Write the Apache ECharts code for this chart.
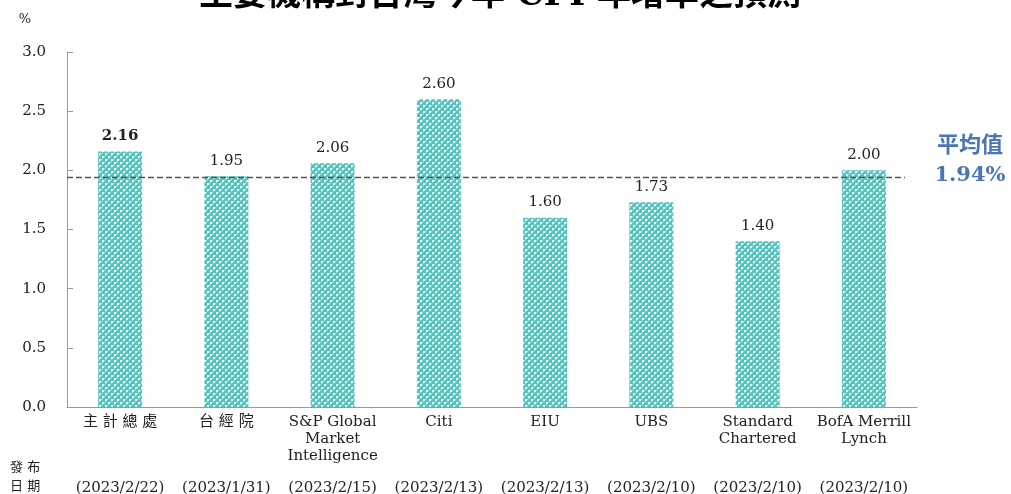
<!DOCTYPE html>
<html><head><meta charset="utf-8">
<script src="https://cdn.jsdelivr.net/npm/echarts@6/dist/echarts.min.js"></script>
<style>html,body{margin:0;padding:0;background:#fff}#c{width:1011px;height:494px}</style>
</head><body><div id="c"></div>
<script>
const categories = ['主 計 總 處','台 經 院','S&P Global\nMarket\nIntelligence','Citi','EIU','UBS','Standard\nChartered','BofA Merrill\nLynch'];
const dates = ['(2023/2/22)','(2023/1/31)','(2023/2/15)','(2023/2/13)','(2023/2/13)','(2023/2/10)','(2023/2/10)','(2023/2/10)'];
const values = [2.16, 1.95, 2.06, 2.60, 1.60, 1.73, 1.40, 2.00];
const average = 1.94;
const titleText = '主要機構對台灣今年 CPI 年增率之預測';

const serif = '"DejaVu Serif","Noto Sans CJK TC",serif';

// lattice pattern
const pc = document.createElement('canvas');
pc.width = 6; pc.height = 6;
const g = pc.getContext('2d');
g.imageSmoothingEnabled = false;
g.fillStyle = '#4fc6bf'; g.fillRect(0,0,6,6);
g.fillStyle = '#e8f8f7';
g.fillRect(0,0,2,2); g.fillRect(3,3,2,2);
g.fillStyle = '#a8e4e0';
g.fillRect(2,0,1,1); g.fillRect(5,3,1,1); g.fillRect(0,2,1,1); g.fillRect(3,5,1,1);

const chart = echarts.init(document.getElementById('c'));
chart.setOption({
  animation: false,
  grid: {left: 67, right: 94, top: 52, bottom: 87, outerBoundsMode: 'none', containLabel: false},
  xAxis: [{
    type: 'category', data: categories,
    axisLine: {lineStyle: {color: '#999'}},
    axisTick: {lineStyle: {color: '#999'}, length: 4},
    axisLabel: {color: '#222', fontFamily: serif, fontSize: 15, lineHeight: 17, margin: 7, interval: 0}
  }, {
    type: 'category', data: dates, position: 'bottom', offset: 66,
    axisLine: {show: false}, axisTick: {show: false},
    axisLabel: {color: '#222', fontFamily: serif, fontSize: 15, interval: 0}
  }],
  yAxis: {
    type: 'value', min: 0, max: 3, interval: 0.5,
    name: '%', nameLocation: 'end', nameGap: 26,
    nameTextStyle: {color: '#222', fontFamily: serif, fontSize: 13, align: 'right', padding: [0, 36, 0, 0]},
    axisLine: {show: true, lineStyle: {color: '#999'}},
    axisTick: {show: true, inside: true, length: 6, lineStyle: {color: '#999'}},
    splitLine: {show: false},
    axisLabel: {color: '#222', fontFamily: serif, fontSize: 15, margin: 21,
      formatter: v => v.toFixed(1)}
  },
  series: [{
    type: 'bar', data: values.map((v, i) => ({value: v,
      label: i === 0 ? {fontWeight: 'bold'} : {}})),
    barWidth: 44,
    itemStyle: {color: {image: pc, repeat: 'repeat'}},
    label: {show: true, position: 'top', distance: 8, color: '#222', fontFamily: serif, fontSize: 15,
      formatter: p => p.value.toFixed(2)},
    markLine: {
      silent: true, symbol: 'none',
      lineStyle: {type: [6, 3], color: '#555', width: 1.3},
      label: {show: false},
      data: [[{xAxis: 0, yAxis: average, x: 67}, {yAxis: average, x: 905}]]
    }
  }],
  graphic: [
    {type: 'text', x: 500, y: -4, style: {text: titleText, font: 'bold 34px ' + serif, fill: '#000', textAlign: 'center', textVerticalAlign: 'middle'}},
    {type: 'text', x: 970, y: 146, style: {text: '平均值', font: 'bold 22px ' + serif, fill: '#4a76b4', textAlign: 'center', textVerticalAlign: 'middle'}},
    {type: 'text', x: 970, y: 176, style: {text: average.toFixed(2) + '%', font: 'bold 21px ' + serif, fill: '#4a76b4', textAlign: 'center', textVerticalAlign: 'middle'}},
    {type: 'text', x: 10, y: 468, style: {text: '發 布', font: '13px ' + serif, fill: '#222', textVerticalAlign: 'middle'}},
    {type: 'text', x: 10, y: 487, style: {text: '日 期', font: '13px ' + serif, fill: '#222', textVerticalAlign: 'middle'}}
  ]
});
</script></body></html>
